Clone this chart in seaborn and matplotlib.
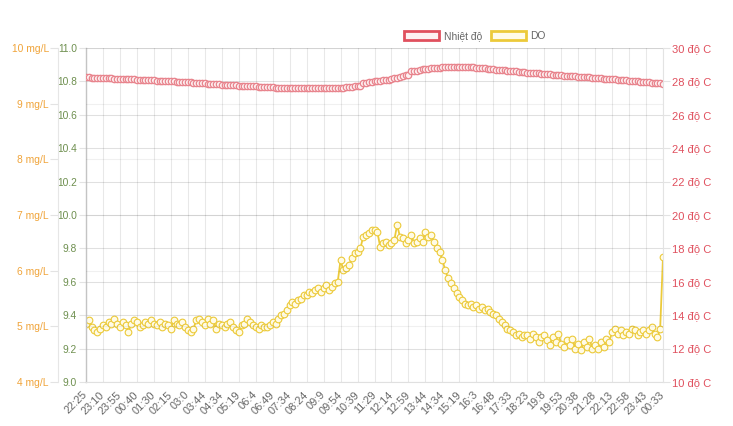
import pandas as pd
import matplotlib
matplotlib.use('Agg')
import matplotlib.pyplot as plt
import seaborn as sns
from matplotlib.patches import Patch

# Nhãn thời gian trên trục x (mỗi nhãn cách nhau 6 điểm đo)
time_labels = ['22:25', '23:10', '23:55', '00:40', '01:30', '02:15', '03:0', '03:44',
               '04:34', '05:19', '06:4', '06:49', '07:34', '08:24', '09:9', '09:54',
               '10:39', '11:29', '12:14', '12:59', '13:44', '14:34', '15:19', '16:3',
               '16:48', '17:33', '18:23', '19:8', '19:53', '20:38', '21:28', '22:13',
               '22:58', '23:43', '00:33']

# Nhiệt độ (độ C) - trục phải
nhiet_do = [
    28.25, 28.24, 28.23, 28.23, 28.22, 28.21,
    28.20, 28.19, 28.19, 28.18, 28.17, 28.17,
    28.16, 28.15, 28.14, 28.14, 28.13, 28.12,
    28.11, 28.10, 28.10, 28.09, 28.08, 28.07,
    28.06, 28.05, 28.05, 28.04, 28.03, 28.02,
    28.01, 28.00, 27.99, 27.98, 27.97, 27.96,
    27.95, 27.94, 27.93, 27.92, 27.91, 27.89,
    27.88, 27.87, 27.86, 27.85, 27.84, 27.82,
    27.81, 27.80, 27.79, 27.78, 27.77, 27.76,
    27.75, 27.74, 27.73, 27.72, 27.72, 27.71,
    27.70, 27.69, 27.68, 27.67, 27.66, 27.65,
    27.64, 27.63, 27.63, 27.62, 27.62, 27.61,
    27.61, 27.60, 27.60, 27.60, 27.59, 27.59,
    27.59, 27.59, 27.59, 27.59, 27.59, 27.59,
    27.59, 27.59, 27.60, 27.60, 27.61, 27.61,
    27.62, 27.63, 27.65, 27.67, 27.69, 27.71,
    27.73, 27.75, 27.92, 27.93, 27.95, 27.97,
    28.00, 28.02, 28.04, 28.07, 28.09, 28.11,
    28.14, 28.18, 28.22, 28.27, 28.31, 28.36,
    28.40, 28.60, 28.62, 28.65, 28.68, 28.72,
    28.75, 28.77, 28.79, 28.80, 28.82, 28.83,
    28.84, 28.85, 28.86, 28.86, 28.87, 28.87,
    28.87, 28.87, 28.86, 28.86, 28.85, 28.84,
    28.83, 28.81, 28.80, 28.78, 28.76, 28.75,
    28.73, 28.71, 28.70, 28.68, 28.66, 28.65,
    28.63, 28.61, 28.60, 28.58, 28.56, 28.55,
    28.53, 28.52, 28.50, 28.49, 28.48, 28.46,
    28.45, 28.43, 28.42, 28.40, 28.39, 28.37,
    28.36, 28.35, 28.34, 28.33, 28.31, 28.30,
    28.29, 28.28, 28.26, 28.25, 28.24, 28.22,
    28.21, 28.20, 28.18, 28.17, 28.16, 28.14,
    28.13, 28.12, 28.10, 28.09, 28.08, 28.06,
    28.05, 28.04, 28.02, 28.01, 27.99, 27.98,
    27.96, 27.94, 27.93, 27.91, 27.89, 27.88,
    27.86]

# DO - trục trái trong (9.0 - 11.0)
do_values = [
    9.35, 9.37, 9.33, 9.31, 9.30, 9.32,
    9.34, 9.33, 9.36, 9.35, 9.38, 9.35,
    9.33, 9.36, 9.34, 9.30, 9.35, 9.37,
    9.36, 9.33, 9.34, 9.36, 9.35, 9.37,
    9.35, 9.34, 9.36, 9.33, 9.35, 9.34,
    9.32, 9.37, 9.35, 9.34, 9.36, 9.33,
    9.31, 9.30, 9.32, 9.37, 9.38, 9.36,
    9.34, 9.38, 9.35, 9.37, 9.32, 9.35,
    9.34, 9.33, 9.35, 9.36, 9.33, 9.31,
    9.30, 9.34, 9.35, 9.38, 9.36, 9.34,
    9.33, 9.32, 9.34, 9.33, 9.33, 9.34,
    9.36, 9.35, 9.38, 9.40, 9.41, 9.43,
    9.46, 9.48, 9.47, 9.49, 9.50, 9.52,
    9.52, 9.54, 9.53, 9.55, 9.56, 9.54,
    9.56, 9.58, 9.55, 9.57, 9.59, 9.60,
    9.73, 9.67, 9.68, 9.70, 9.74, 9.77,
    9.78, 9.80, 9.87, 9.88, 9.89, 9.91,
    9.91, 9.90, 9.81, 9.83, 9.84, 9.82,
    9.83, 9.85, 9.94, 9.87, 9.86, 9.83,
    9.85, 9.88, 9.83, 9.84, 9.86, 9.84,
    9.90, 9.87, 9.88, 9.84, 9.80, 9.78,
    9.73, 9.67, 9.62, 9.59, 9.56, 9.53,
    9.51, 9.49, 9.47, 9.46, 9.47, 9.45,
    9.46, 9.44, 9.45, 9.43, 9.44, 9.42,
    9.41, 9.40, 9.38, 9.36, 9.34, 9.32,
    9.31, 9.30, 9.28, 9.29, 9.27, 9.28,
    9.28, 9.26, 9.29, 9.27, 9.24, 9.27,
    9.28, 9.25, 9.22, 9.27, 9.24, 9.29,
    9.23, 9.21, 9.25, 9.22, 9.26, 9.20,
    9.23, 9.19, 9.24, 9.21, 9.26, 9.20,
    9.22, 9.20, 9.24, 9.21, 9.26, 9.24,
    9.30, 9.32, 9.29, 9.31, 9.28, 9.30,
    9.29, 9.32, 9.31, 9.28, 9.30, 9.31,
    9.29, 9.31, 9.33, 9.29, 9.27, 9.32,
    9.75]

inner_ticks = [9.0, 9.2, 9.4, 9.6, 9.8, 10.0, 10.2, 10.4, 10.6, 10.8, 11.0]
outer_ticks = [4, 5, 6, 7, 8, 9, 10]
temp_ticks = [10, 12, 14, 16, 18, 20, 22, 24, 26, 28, 30]

df = pd.DataFrame({'idx': range(len(do_values)), 'DO': do_values, 'Nhiet do': nhiet_do})

sns.set_style('white')
plt.rcParams['font.family'] = ['Liberation Sans', 'DejaVu Sans']
plt.rcParams['font.size'] = 7.4

tick_c = '#e3e3e3'
red = '#e0505e'
red_pt = '#e8838c'
yellow = '#ecca3a'
orange = '#f0a43a'
green = '#6e8f4f'
gray = '#666666'

fig = plt.figure(figsize=(7.33, 4.26), dpi=100)
ax = fig.add_axes([86 / 733, 1 - 382 / 426, 577 / 733, 334 / 426])
ax_out = ax.twinx()
ax_r = ax.twinx()

# DO
sns.lineplot(data=df, x='idx', y='DO', ax=ax, color=yellow, lw=1.3,
             marker='o', markersize=4.8, markerfacecolor='#fffbe6',
             markeredgecolor=yellow, markeredgewidth=0.8)
# Nhiệt độ
sns.lineplot(data=df, x='idx', y='Nhiet do', ax=ax_r, color=red_pt, lw=1.2,
             marker='o', markersize=4.6, markerfacecolor='#fdf0f1',
             markeredgecolor=red_pt, markeredgewidth=0.9)

# trục x
ax.set_xlim(0, len(do_values) - 1)
ax.set_xticks(range(0, len(do_values), 6))
ax.set_xticklabels(time_labels)
plt.setp(ax.get_xticklabels(), rotation=45, ha='right', va='center',
         rotation_mode='anchor', fontsize=7.9)
ax.tick_params(axis='x', colors=tick_c, labelcolor=gray, length=5, width=0.8, pad=3)
ax.set_xlabel('')

# trục trái trong
ax.set_ylim(9.0, 11.0)
ax.set_yticks(inner_ticks)
ax.set_yticklabels([f'{v:.1f}' for v in inner_ticks])
ax.tick_params(axis='y', colors=tick_c, labelcolor=green, length=5, width=0.8,
               pad=1.5, labelsize=7.4)
ax.set_ylabel('')
ax.grid(True, color='k', alpha=0.09, lw=0.8)

# trục trái ngoài (mg/L)
ax_out.set_ylim(4, 10)
ax_out.set_yticks(outer_ticks)
ax_out.set_yticklabels([f'{v} mg/L' for v in outer_ticks])
ax_out.yaxis.set_ticks_position('left')
ax_out.yaxis.set_label_position('left')
ax_out.spines['left'].set_position(('outward', 20))
ax_out.tick_params(axis='y', colors=tick_c, labelcolor=orange, length=5.8, width=0.8,
                   pad=1, labelsize=7.4)
ax_out.grid(True, axis='y', color='k', alpha=0.06, lw=0.8)

# trục phải (độ C)
ax_r.set_ylim(10, 30)
ax_r.set_yticks(temp_ticks)
ax_r.set_yticklabels([f'{v} độ C' for v in temp_ticks])
ax_r.tick_params(axis='y', colors=tick_c, labelcolor=red, length=5, width=0.8,
                 pad=1.5, labelsize=8.0)
ax_r.set_ylabel('')
ax_r.grid(True, axis='y', color='k', alpha=0.03, lw=0.8)

for a in (ax, ax_out, ax_r):
    for s in a.spines.values():
        s.set_visible(False)
ax.spines['left'].set_visible(True)
ax.spines['left'].set_color('#c4c4c4')
ax.spines['left'].set_linewidth(1.0)
ax.spines['bottom'].set_visible(True)
ax.spines['bottom'].set_color('#e0e0e0')
ax.spines['bottom'].set_linewidth(0.8)
ax_out.spines['left'].set_visible(True)
ax_out.spines['left'].set_color('#e6e6e6')
ax_out.spines['left'].set_linewidth(0.8)
ax_r.spines['right'].set_visible(True)
ax_r.spines['right'].set_color('#e3e3e3')
ax_r.spines['right'].set_linewidth(0.8)

handles = [Patch(facecolor='#fdf1f2', edgecolor=red, lw=2, label='Nhiệt độ'),
           Patch(facecolor='#fffbe8', edgecolor=yellow, lw=2, label='DO')]
fig.legend(handles=handles, loc='center', bbox_to_anchor=(0.648, 0.915), ncol=2,
           frameon=False, handlelength=3.4, handleheight=0.95, handletextpad=0.4,
           columnspacing=0.9, fontsize=7.4, labelcolor=gray)

plt.savefig('out.png', dpi=100)
